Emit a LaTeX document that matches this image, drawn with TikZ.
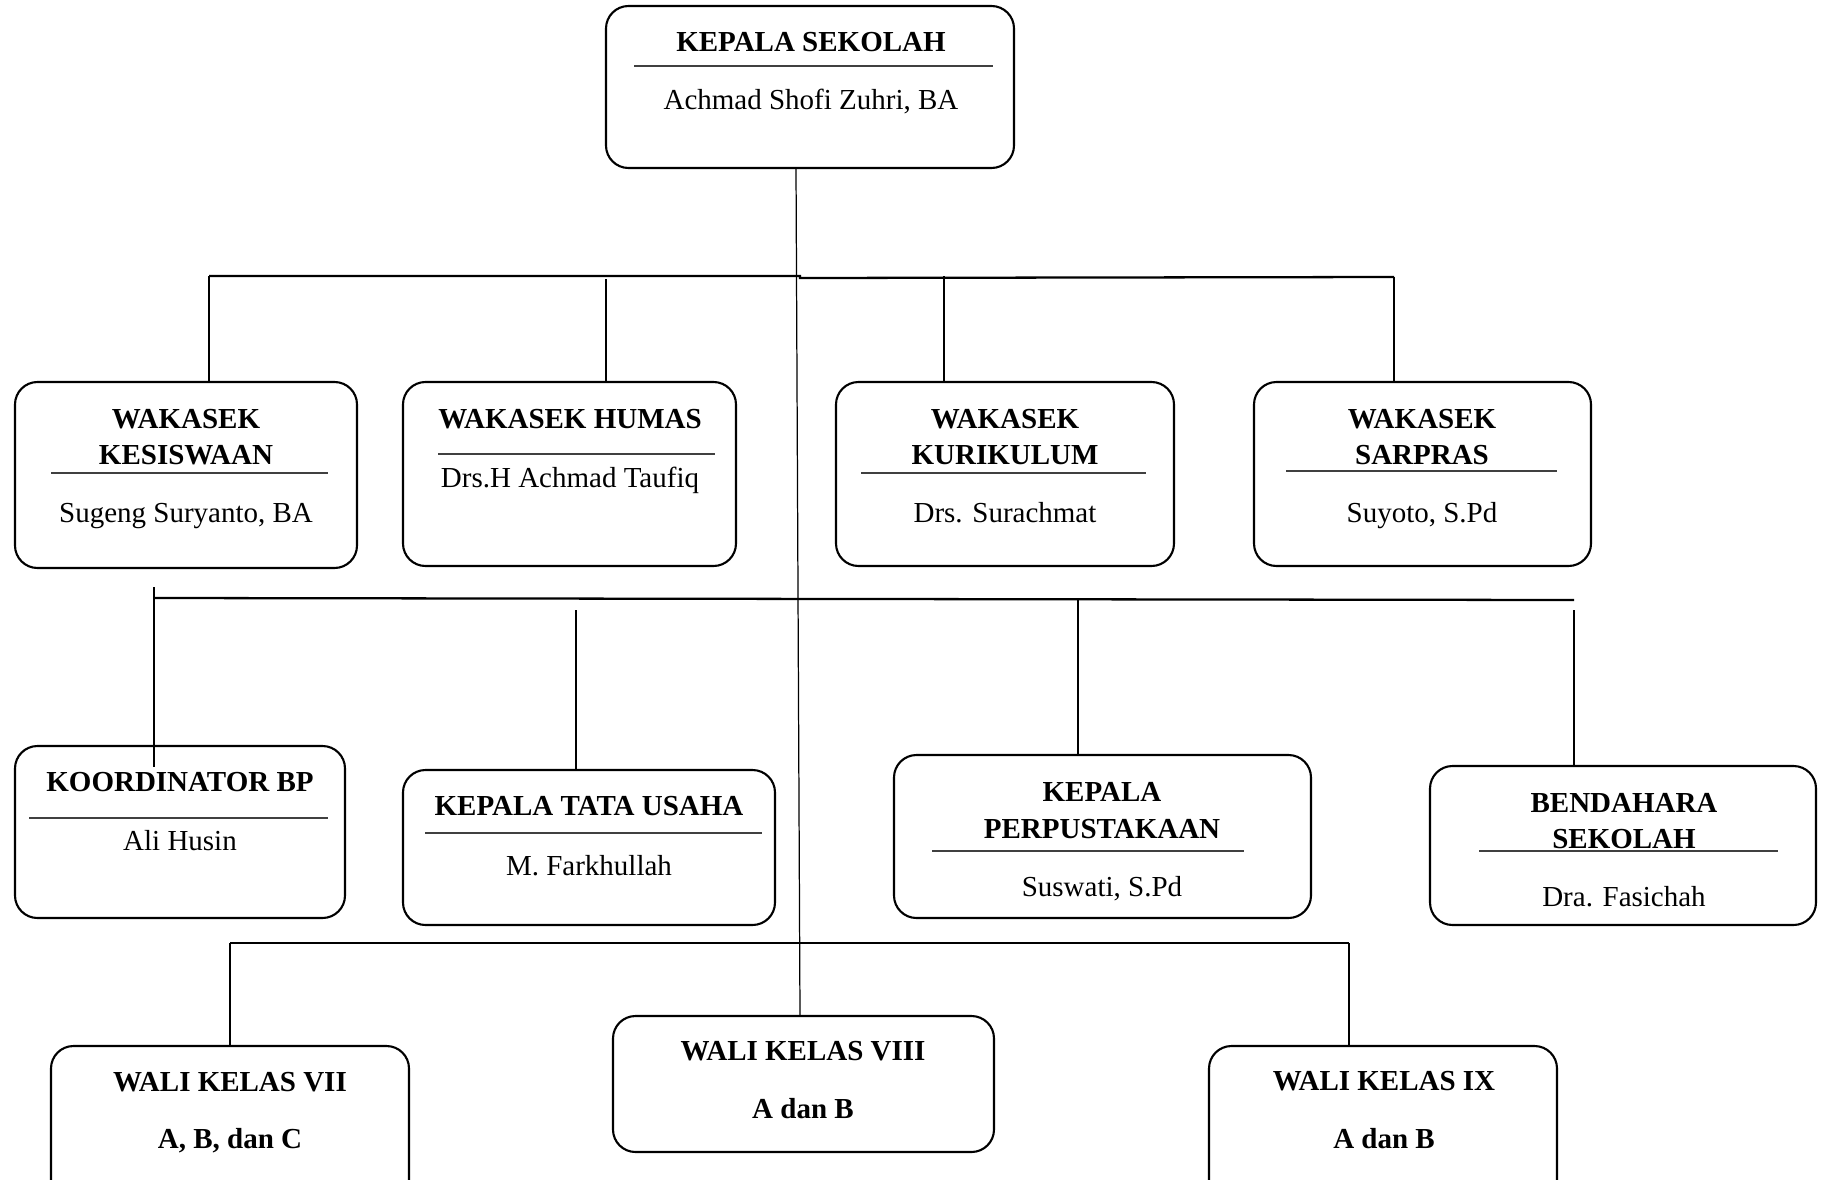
\documentclass[tikz,border=0pt]{standalone}
\usepackage{fontspec}
\setmainfont{Liberation Serif}
\usetikzlibrary{fit}

\tikzset{
  box/.style={draw, line width=1.2pt, rounded corners=4.5mm, inner sep=0pt},
  title/.style={font=\fontsize{16.5}{20}\selectfont\bfseries, anchor=base, inner sep=0pt},
  person/.style={font=\fontsize{16.5}{20}\selectfont, anchor=base, inner sep=0pt},
  rule/.style={line width=0.9pt, black!75},
  bus/.style={line width=1.3pt},
  link/.style={line width=0.7pt}
}

\begin{document}
\begin{tikzpicture}[x=0.2mm, y=-0.2mm]
\useasboundingbox (0,0) rectangle (1825,1179);

% kepala sekolah
\node[box, fit={(606,6) (1014,168)}] (ks) {};
\node[title] (ks-t) at (811,51) {KEPALA SEKOLAH};
\draw[rule] (634,66) -- (993,66);
\node[person] (ks-n) at (811,109) {Achmad Shofi Zuhri, BA};

% wakasek
\node[box, fit={(15,382) (357,568)}] (kes) {};
\node[title] (kes-t1) at (186,428) {WAKASEK};
\node[title] (kes-t2) at (186,464) {KESISWAAN};
\draw[rule] (51,473) -- (328,473);
\node[person] (kes-n) at (186,522) {Sugeng Suryanto, BA};

\node[box, fit={(403,382) (736,566)}] (hum) {};
\node[title] (hum-t) at (570,428) {WAKASEK HUMAS};
\draw[rule] (438,454) -- (715,454);
\node[person] (hum-n) at (570,487) {Drs.H Achmad Taufiq};

\node[box, fit={(836,382) (1174,566)}] (kur) {};
\node[title] (kur-t1) at (1005,428) {WAKASEK};
\node[title] (kur-t2) at (1005,464) {KURIKULUM};
\draw[rule] (861,473) -- (1146,473);
\node[person] (kur-n) at (1005,522) {Drs. Surachmat};

\node[box, fit={(1254,382) (1591,566)}] (sar) {};
\node[title] (sar-t1) at (1422,428) {WAKASEK};
\node[title] (sar-t2) at (1422,464) {SARPRAS};
\draw[rule] (1286,471) -- (1557,471);
\node[person] (sar-n) at (1422,522) {Suyoto, S.Pd};

% staf
\node[box, fit={(15,746) (345,918)}] (bp) {};
\node[title] (bp-t) at (180,791) {KOORDINATOR BP};
\draw[rule] (29,818) -- (328,818);
\node[person] (bp-n) at (180,850) {Ali Husin};

\node[box, fit={(403,770) (775,925)}] (tu) {};
\node[title] (tu-t) at (589,815) {KEPALA TATA USAHA};
\draw[rule] (425,833) -- (762,833);
\node[person] (tu-n) at (589,875) {M. Farkhullah};

\node[box, fit={(894,755) (1311,918)}] (pus) {};
\node[title] (pus-t1) at (1102,801) {KEPALA};
\node[title] (pus-t2) at (1102,838) {PERPUSTAKAAN};
\draw[rule] (932,851) -- (1244,851);
\node[person] (pus-n) at (1102,896) {Suswati, S.Pd};

\node[box, fit={(1430,766) (1816,925)}] (ben) {};
\node[title] (ben-t1) at (1624,812) {BENDAHARA};
\node[title] (ben-t2) at (1624,848) {SEKOLAH};
\draw[rule] (1479,851) -- (1778,851);
\node[person] (ben-n) at (1624,906) {Dra. Fasichah};

% wali kelas
\node[box, fit={(51,1046) (409,1205)}] (w7) {};
\node[title] (w7-t) at (230,1091) {WALI KELAS VII};
\node[title] (w7-n) at (230,1148) {A, B, dan C};

\node[box, fit={(613,1016) (994,1152)}] (w8) {};
\node[title] (w8-t) at (803,1060) {WALI KELAS VIII};
\node[title] (w8-n) at (803,1118) {A dan B};

\node[box, fit={(1209,1046) (1557,1205)}] (w9) {};
\node[title] (w9-t) at (1384,1090) {WALI KELAS IX};
\node[title] (w9-n) at (1384,1148) {A dan B};

% garis
\coordinate (top) at (796,168);
\coordinate (bot) at (800,1016);
\draw[link] (top) -- (bot);

\coordinate (b1a) at (209,276);
\coordinate (b1b) at (1394,277);
\draw[bus] (b1a) -- (800,276) -- (800,278) -- (b1b);
\coordinate (d2) at (606,279);
\coordinate (d3) at (944,276);
\draw[link] (b1a) -- (b1a |- kes.north);
\draw[link] (d2) -- (d2 |- hum.north);
\draw[link] (d3) -- (d3 |- kur.north);
\draw[link] (b1b) -- (b1b |- sar.north);

\coordinate (b2a) at (154,598);
\coordinate (b2b) at (1574,600);
\draw[bus] (b2a) -- (b2b);
\coordinate (e1) at (154,587);
\coordinate (e2) at (576,610);
\coordinate (e3) at (1078,598);
\coordinate (e4) at (1574,610);
\draw[link] (e1) -- ([yshift=-4.5mm]e1 |- bp.north);
\draw[link] (e2) -- (e2 |- tu.north);
\draw[link] (e3) -- (e3 |- pus.north);
\draw[link] (e4) -- (e4 |- ben.north);

\coordinate (b3a) at (230,943);
\coordinate (b3b) at (1349,943);
\draw[bus] (b3a) -- (b3b);
\draw[link] (b3a) -- (b3a |- w7.north);
\draw[link] (b3b) -- (b3b |- w9.north);
\end{tikzpicture}
\end{document}
